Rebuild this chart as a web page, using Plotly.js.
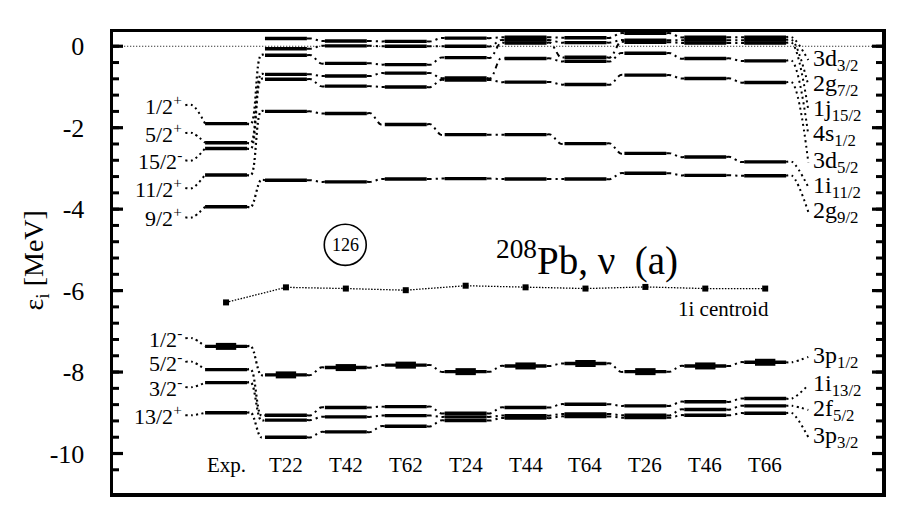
<!DOCTYPE html>
<html>
<head>
<meta charset="utf-8">
<script src="https://cdn.plot.ly/plotly-3.0.1.min.js"></script>
<style>body{margin:0;background:#fff}</style>
</head>
<body>
<div id="plot" style="width:900px;height:525px"></div>
<script>
// columns: experiment + the nine tensor parametrisations
var columns = ["Exp.", "T22", "T42", "T62", "T24", "T44", "T64", "T26", "T46", "T66"];

// upper (unoccupied) neutron levels, MeV, one value per column
var d32  = [null, 0.19, 0.13, 0.12, 0.20, 0.22, 0.21, 0.32, 0.22, 0.22];
var g72  = [null, -0.06, 0.01, 0.00, 0.00, 0.15, 0.09, 0.15, 0.15, 0.15];
var j152 = [-1.90, -0.22, -0.42, -0.45, -0.28, 0.08, -0.27, 0.10, 0.08, 0.08];
var s12  = [-2.37, -0.69, -0.73, -0.66, -0.78, -0.30, -0.37, -0.17, -0.30, -0.36];
var d52  = [-2.51, -0.81, -0.98, -1.00, -0.83, -0.88, -0.94, -0.71, -0.79, -0.89];
var i112 = [-3.16, -1.60, -1.65, -1.92, -2.17, -2.17, -2.39, -2.63, -2.72, -2.84];
var g92  = [-3.94, -3.29, -3.33, -3.26, -3.25, -3.26, -3.26, -3.12, -3.17, -3.18];

// lower (occupied) neutron levels
var p12  = [-7.37, -8.07, -7.89, -7.83, -7.99, -7.85, -7.79, -7.99, -7.85, -7.76];
var i132 = [-7.94, -9.06, -8.87, -8.85, -9.01, -8.87, -8.79, -8.83, -8.73, -8.65];
var f52  = [-8.26, -9.18, -9.10, -9.07, -9.10, -9.07, -9.03, -9.06, -8.92, -8.83];
var p32  = [-9.00, -9.60, -9.47, -9.33, -9.19, -9.13, -9.09, -9.12, -9.06, -9.01];

// 1i spin-orbit centroid
var centroid = [-6.29, -5.92, -5.95, -5.99, -5.88, -5.92, -5.95, -5.91, -5.95, -5.95];

// labels
var expLabels = ["1/2<sup>+</sup>", "5/2<sup>+</sup>", "15/2<sup>-</sup>", "11/2<sup>+</sup>", "9/2<sup>+</sup>",
                 "1/2<sup>-</sup>", "5/2<sup>-</sup>", "3/2<sup>-</sup>", "13/2<sup>+</sup>"];
var stateLabels = ["3d<sub>3/2</sub>", "2g<sub>7/2</sub>", "1j<sub>15/2</sub>", "4s<sub>1/2</sub>",
                   "3d<sub>5/2</sub>", "1i<sub>11/2</sub>", "2g<sub>9/2</sub>",
                   "3p<sub>1/2</sub>", "1i<sub>13/2</sub>", "2f<sub>5/2</sub>", "3p<sub>3/2</sub>"];

var levels = [d32, g72, j152, s12, d52, i112, g92, p12, i132, f52, p32];

// where the side labels sit (MeV)
var expLabelY = [-1.45, -2.13, -2.80, -3.48, -4.20, -7.17, -7.75, -8.37, -9.06];
var stateLabelY = [-0.34, -0.96, -1.57, -2.18, -2.85, -3.46, -4.07, -7.63, -8.32, -8.93, -9.60];

// axis ticks
var majorTicks = [0, -2, -4, -6, -8, -10];
var majorText = ["0", "-2", "-4", "-6", "-8", "-10"];
var minorTicks = [];
for (var t = 0; t >= -10.8; t -= 0.4) minorTicks.push(Math.round(t * 10) / 10);

var hw = 0.35;
var last = columns.length - 1;

// level bars
var bx = [], by = [];
levels.forEach(function (lv) {
  lv.forEach(function (e, i) {
    if (e === null) return;
    bx.push(i - hw, i + hw, null);
    by.push(e, e, null);
  });
});

// thick middle of the 3p1/2 bars
var tx = [], ty = [];
p12.forEach(function (e, i) {
  tx.push(i - 0.17, i + 0.17, null);
  ty.push(e, e, null);
});

// connectors between neighbouring columns
var cx = [], cy = [], ex = [], ey = [];
levels.forEach(function (lv) {
  for (var i = 0; i < last; i++) {
    var a = lv[i], b = lv[i + 1];
    if (a === null || b === null) continue;
    var xs = [i + hw, i + hw + 0.07, i + 1 - hw - 0.07, i + 1 - hw, null];
    var ys = [a, a, b, b, null];
    if (i === 0) { ex = ex.concat(xs); ey = ey.concat(ys); }
    else { cx = cx.concat(xs); cy = cy.concat(ys); }
  }
});

// leaders to the labels on both sides
var lx = [], ly = [];
var expLevels = [j152, s12, d52, i112, g92, p12, i132, f52, p32];
expLevels.forEach(function (lv, k) {
  lx.push(-0.68, -0.56, -hw, null);
  ly.push(expLabelY[k], expLabelY[k], lv[0], null);
});
levels.forEach(function (lv, k) {
  lx.push(last + hw, last + 0.45, last + 0.72, null);
  ly.push(lv[last], lv[last], stateLabelY[k], null);
});

var black = "#000";
var serif = "Liberation Serif";
var traces = [
  {x: [-2, 11], y: [0, 0], mode: "lines", line: {color: black, width: 1, dash: "1px,2px"}},
  {x: ex, y: ey, mode: "lines", line: {color: black, width: 2.2, dash: "2px,3px", shape: "spline"}},
  {x: cx, y: cy, mode: "lines", line: {color: black, width: 2, dash: "5px,4px,2px,4px", shape: "spline"}},
  {x: lx, y: ly, mode: "lines", line: {color: black, width: 2, dash: "2px,3.5px", shape: "spline"}},
  {x: bx, y: by, mode: "lines", line: {color: black, width: 3.4}},
  {x: tx, y: ty, mode: "lines", line: {color: black, width: 7}},
  {x: columns.map(function (c, i) { return i; }), y: centroid, mode: "lines+markers",
   line: {color: black, width: 1.3, dash: "1.5px,1.5px"},
   marker: {symbol: "square", size: 6, color: black}}
];

function f(size) { return {family: serif, size: size, color: black}; }

var ann = [];
columns.forEach(function (c, i) {
  ann.push({x: i, y: -10.28, text: c, showarrow: false, font: f(21)});
});
expLabels.forEach(function (t, k) {
  ann.push({x: -0.7, y: expLabelY[k], text: t, showarrow: false, xanchor: "right", font: f(22)});
});
stateLabels.forEach(function (t, k) {
  ann.push({x: last + 0.77, y: stateLabelY[k], text: t, showarrow: false, xanchor: "left", font: f(24)});
});
ann.push({x: 1.99, y: -4.88, text: "126", showarrow: false, font: f(18)});
ann.push({x: 6.02, y: -5.22, text: "<sup>208</sup>Pb, \u03bd\u00a0\u00a0(a)", showarrow: false, font: f(39)});
ann.push({x: 9.1, y: -6.45, text: "1i centroid", showarrow: false, xanchor: "right", font: f(21)});
ann.push({xref: "paper", yref: "paper", x: -0.101, y: 0.505, xanchor: "center", yanchor: "middle",
          text: "\u03b5<sub>i</sub> [MeV]", textangle: -90, showarrow: false, font: f(28)});

// inward tick marks on the left and right frame (paper fraction of the 769 px plot width)
var plotW = 900 - 113 - 18;
var shapes = [{type: "circle", xref: "x", yref: "y", x0: 1.64, x1: 2.34, y0: -5.38, y1: -4.37,
               line: {color: black, width: 1.6}}];
function tick(v, len, w) {
  var d = len / plotW;
  shapes.push({type: "line", xref: "paper", yref: "y", x0: 0, x1: d, y0: v, y1: v,
               line: {color: black, width: w}, layer: "above"});
  shapes.push({type: "line", xref: "paper", yref: "y", x0: 1 - d, x1: 1, y0: v, y1: v,
               line: {color: black, width: w}, layer: "above"});
}
minorTicks.forEach(function (v) { tick(v, 6, 3); });
majorTicks.forEach(function (v) { tick(v, 10, 3.2); });

var layout = {
  width: 900, height: 525,
  margin: {l: 113, r: 18, t: 32, b: 32},
  showlegend: false,
  paper_bgcolor: "#fff", plot_bgcolor: "#fff",
  font: f(16),
  xaxis: {range: [-1.887, 10.95], showgrid: false, zeroline: false, showticklabels: false,
          ticks: "", showline: true, mirror: true, linecolor: black, linewidth: 3.5},
  yaxis: {range: [-10.97, 0.35], showgrid: false, zeroline: false,
          tickmode: "array", tickvals: majorTicks, ticktext: majorText,
          ticks: "", ticklabelstandoff: 20, tickfont: f(26),
          showline: true, mirror: true, linecolor: black, linewidth: 3.5},
  shapes: shapes,
  annotations: ann
};

Plotly.newPlot("plot", traces, layout, {displayModeBar: false, staticPlot: true});
</script>
</body>
</html>
